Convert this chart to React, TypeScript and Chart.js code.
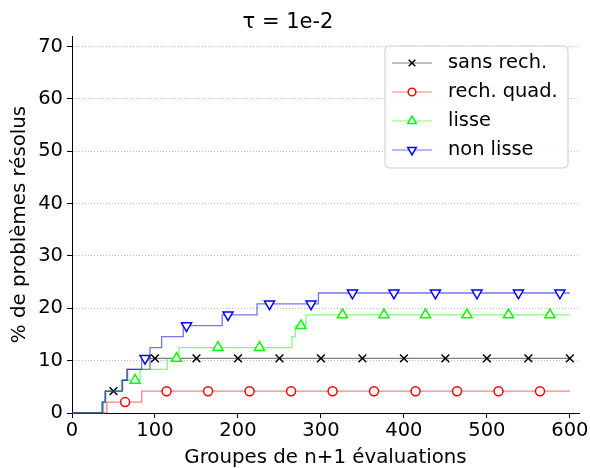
import React, { useEffect, useRef } from 'react';
import { Chart, registerables } from 'chart.js';

Chart.register(...registerables);

const FONT = "'DejaVu Sans', 'Liberation Sans', sans-serif";

const titleText = 'τ = 1e-2';
const xLabel = 'Groupes de n+1 évaluations';
const yLabel = '% de problèmes résolus';
const seriesNames = ['sans rech.', 'rech. quad.', 'lisse', 'non lisse'];

// step curves: evaluation-group where the curve jumps, and % solved reached there
const sansX = [0, 36, 40, 60, 66, 94, 600];
const sansY = [0, 2.08, 4.17, 6.25, 8.33, 10.42, 10.42];
const quadX = [0, 42, 84, 600];
const quadY = [0, 2.08, 4.17, 4.17];
const lisseX = [0, 38, 41, 60, 82, 115, 129, 265, 269, 282, 600];
const lisseY = [0, 2.08, 4.17, 6.25, 8.33, 10.42, 12.5, 14.58, 16.67, 18.75, 18.75];
const nonLisseX = [0, 37, 40, 61, 67, 84, 94, 108, 134, 181, 223, 297, 600];
const nonLisseY = [0, 2.08, 4.17, 6.25, 8.33, 10.42, 12.5, 14.58, 16.67, 18.75, 20.83, 22.92, 22.92];

// where the markers sit along each curve
const sansMarks = [50, 100, 150, 200, 250, 300, 350, 400, 450, 500, 550, 600];
const quadMarks = [64, 114, 164, 214, 264, 314, 364, 414, 464, 514, 564];
const lisseMarks = [76, 126, 176, 226, 276, 326, 376, 426, 476, 526, 576];
const nonLisseMarks = [88, 138, 188, 238, 288, 338, 388, 438, 488, 538, 588];

const lineColors = ['rgba(0,0,0,0.5)', 'rgba(255,0,0,0.5)', 'rgba(0,255,0,0.5)', 'rgba(0,0,255,0.55)'];
const markColors = ['#000000', '#ff0000', '#00ff00', '#0000ff'];
const markStyles = ['crossRot', 'circle', 'triangle', 'triangle'];
const markRot = [0, 0, 0, 180];
const markRadius = [5.5, 4.5, 5.8, 5.8];

function valueAt(xs: number[], ys: number[], x: number) {
  let v = ys[0];
  for (let i = 0; i < xs.length; i++) if (xs[i] <= x) v = ys[i];
  return v;
}

function buildData(xs: number[], ys: number[], marks: number[]) {
  const pts: { x: number; y: number; m: boolean }[] = [];
  xs.forEach((x, i) => pts.push({ x, y: ys[i], m: false }));
  marks.forEach((x) => pts.push({ x, y: valueAt(xs, ys, x), m: true }));
  pts.sort((a, b) => a.x - b.x || (a.m ? 1 : 0) - (b.m ? 1 : 0));
  return pts;
}

function drawMarker(ctx: CanvasRenderingContext2D, style: string, x: number, y: number, r: number, rot: number, color: string) {
  ctx.save();
  ctx.strokeStyle = color;
  ctx.fillStyle = '#ffffff';
  ctx.lineWidth = 1.5;
  ctx.beginPath();
  if (style === 'circle') {
    ctx.arc(x, y, r, 0, Math.PI * 2);
    ctx.fill();
    ctx.stroke();
  } else if (style === 'triangle') {
    let a = (rot * Math.PI) / 180;
    ctx.moveTo(x + Math.sin(a) * r, y - Math.cos(a) * r);
    a += (2 * Math.PI) / 3;
    ctx.lineTo(x + Math.sin(a) * r, y - Math.cos(a) * r);
    a += (2 * Math.PI) / 3;
    ctx.lineTo(x + Math.sin(a) * r, y - Math.cos(a) * r);
    ctx.closePath();
    ctx.fill();
    ctx.stroke();
  } else {
    const o = Math.cos(Math.PI / 4) * r;
    ctx.moveTo(x - o, y - o);
    ctx.lineTo(x + o, y + o);
    ctx.moveTo(x - o, y + o);
    ctx.lineTo(x + o, y - o);
    ctx.stroke();
  }
  ctx.restore();
}

const decorPlugin = {
  id: 'decor',
  afterDraw(chart: any) {
    const ctx: CanvasRenderingContext2D = chart.ctx;
    const area = chart.chartArea;
    ctx.save();
    ctx.fillStyle = '#000';
    // title
    ctx.font = `21px ${FONT}`;
    ctx.textAlign = 'center';
    ctx.textBaseline = 'alphabetic';
    ctx.fillText(titleText, 288, 28);
    // x label
    ctx.font = `19.8px ${FONT}`;
    ctx.fillText(xLabel, (area.left + area.right) / 2, 463);
    // y label
    ctx.save();
    ctx.translate(20, (area.top + area.bottom) / 2);
    ctx.rotate(-Math.PI / 2);
    ctx.textBaseline = 'middle';
    ctx.fillText(yLabel, 0, 0);
    ctx.restore();

    // legend
    const bx = 385, by = 46, bw = 183, bh = 122, rr = 4;
    ctx.beginPath();
    ctx.moveTo(bx + rr, by);
    ctx.arcTo(bx + bw, by, bx + bw, by + bh, rr);
    ctx.arcTo(bx + bw, by + bh, bx, by + bh, rr);
    ctx.arcTo(bx, by + bh, bx, by, rr);
    ctx.arcTo(bx, by, bx + bw, by, rr);
    ctx.closePath();
    ctx.fillStyle = 'rgba(255,255,255,0.8)';
    ctx.fill();
    ctx.strokeStyle = '#cccccc';
    ctx.lineWidth = 1;
    ctx.stroke();
    const rowY = [63, 92, 121, 150];
    seriesNames.forEach((name, i) => {
      const y = rowY[i];
      ctx.beginPath();
      ctx.strokeStyle = lineColors[i];
      ctx.lineWidth = 1.2;
      ctx.moveTo(392, y);
      ctx.lineTo(432, y);
      ctx.stroke();
      drawMarker(ctx, markStyles[i], 412, y, markRadius[i] * 0.85, markRot[i], markColors[i]);
      ctx.fillStyle = '#000';
      ctx.font = `19.4px ${FONT}`;
      ctx.textAlign = 'left';
      ctx.textBaseline = 'middle';
      ctx.fillText(name, 448, y);
    });
    ctx.restore();
  },
};

export default function App() {
  const ref = useRef<HTMLCanvasElement | null>(null);
  useEffect(() => {
    document.body.style.margin = '0';
    const series = [
      buildData(sansX, sansY, sansMarks),
      buildData(quadX, quadY, quadMarks),
      buildData(lisseX, lisseY, lisseMarks),
      buildData(nonLisseX, nonLisseY, nonLisseMarks),
    ];
    const datasets = series.map((data, i) => ({
      label: seriesNames[i],
      data,
      stepped: 'before' as const,
      borderColor: lineColors[i],
      borderWidth: 1.3,
      fill: false,
      order: 3 - i,
      pointStyle: markStyles[i] as any,
      pointRotation: markRot[i],
      pointBorderColor: markColors[i],
      pointBackgroundColor: '#ffffff',
      pointBorderWidth: 1.5,
      pointRadius: (c: any) => (c.raw && c.raw.m ? markRadius[i] : 0),
      pointHoverRadius: 0,
      clip: false as any,
    }));
    const tickFont = { family: FONT, size: 19.5 };
    const chart = new Chart(ref.current!, {
      type: 'line',
      data: { datasets },
      options: {
        animation: false,
        responsive: false,
        devicePixelRatio: 1,
        parsing: { xAxisKey: 'x', yAxisKey: 'y' },
        layout: { padding: { left: 0, right: 11, top: 36, bottom: 0 } },
        plugins: { legend: { display: false }, title: { display: false }, tooltip: { enabled: false } },
        events: [],
        scales: {
          x: {
            type: 'linear',
            min: 0,
            max: 611,
            ticks: { stepSize: 100, includeBounds: false, color: '#000', font: tickFont, padding: 1, maxRotation: 0, autoSkip: false },
            grid: { drawOnChartArea: false, drawTicks: true, tickLength: 5, tickColor: '#000', tickWidth: 1 },
            border: { display: true, color: '#000', width: 1 },
            afterFit: (s: any) => { s.height = 55; },
          },
          y: {
            type: 'linear',
            min: 0,
            max: 72,
            ticks: { stepSize: 10, includeBounds: false, color: '#000', font: tickFont, padding: 4 },
            grid: { color: '#b0b0b0', lineWidth: 0.8, drawTicks: true, tickLength: 5, tickColor: '#000', tickWidth: 1 },
            border: { display: true, color: '#000', width: 1, dash: [1, 2] },
            afterFit: (s: any) => { s.width = 72; },
          },
        },
      },
      plugins: [decorPlugin],
    });
    return () => chart.destroy();
  }, []);
  return (
    <div style={{ width: 590, height: 468 }}>
      <canvas ref={ref} width={590} height={468} />
    </div>
  );
}
